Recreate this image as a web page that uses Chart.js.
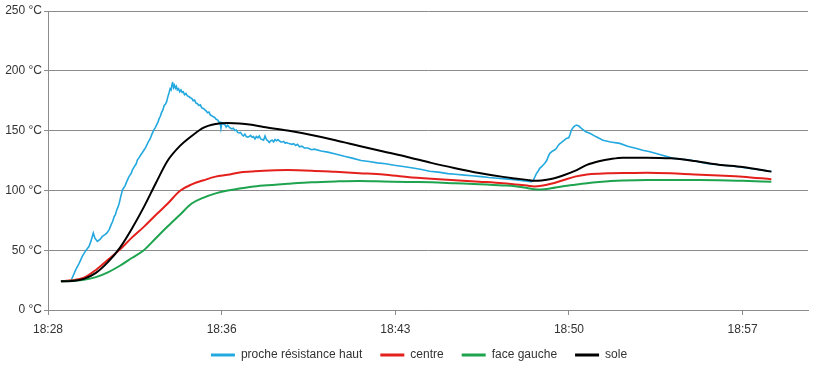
<!DOCTYPE html>
<html>
<head>
<meta charset="utf-8">
<script src="https://cdn.jsdelivr.net/npm/chart.js@4.4.0/dist/chart.umd.min.js"></script>
<style>
  html, body { margin: 0; padding: 0; background: #fff; }
  #wrap { width: 822px; height: 369px; }
</style>
</head>
<body>
<div id="wrap"><canvas id="tempChart" width="822" height="369"></canvas></div>
<script>
'use strict'

//x axis labels, one every tickStep minutes (minutes counted from the first label)
const tickLabels = ['18:28', '18:36', '18:43', '18:50', '18:57'];
const tickStep = 7.25;
const xMax = 31.73;

//y axis
const yTicks = [0, 50, 100, 150, 200, 250];

//series names
const seriesNames = ['proche résistance haut', 'centre', 'face gauche', 'sole'];

//proche résistance haut (noisy probe, own time base)
const timeHaut = [0.54,0.95,1.16,1.30,1.43,1.59,1.71,1.80,1.89,1.96,
  2.06,2.17,2.27,2.38,2.46,2.55,2.60,2.65,2.70,2.76,
  2.81,2.86,2.92,2.97,3.04,3.11,3.16,3.22,3.27,3.32,
  3.38,3.43,3.48,3.52,3.58,3.64,3.68,3.73,3.79,3.85,
  3.92,4.01,4.08,4.15,4.20,4.26,4.34,4.43,4.48,4.54,
  4.59,4.64,4.69,4.74,4.80,4.85,4.90,4.95,5.00,5.06,
  5.10,5.14,5.18,5.20,5.24,5.28,5.32,5.36,5.40,5.45,
  5.50,5.55,5.60,5.65,5.70,5.76,5.82,5.88,5.94,6.00,
  6.06,6.12,6.18,6.24,6.30,6.36,6.42,6.48,6.54,6.60,
  6.66,6.72,6.78,6.84,6.90,6.96,7.02,7.08,7.14,7.18,
  7.22,7.26,7.32,7.38,7.44,7.50,7.56,7.62,7.68,7.74,
  7.80,7.86,7.92,7.98,8.04,8.10,8.16,8.22,8.28,8.34,
  8.40,8.46,8.52,8.58,8.64,8.70,8.76,8.82,8.88,8.94,
  9.00,9.06,9.12,9.18,9.24,9.30,9.36,9.42,9.48,9.54,
  9.60,9.66,9.72,9.78,9.84,9.90,9.96,10.02,10.10,10.18,
  10.26,10.34,10.42,10.50,10.60,10.70,10.85,11.00,11.12,11.40,
  11.68,12.00,12.37,12.70,13.07,13.40,13.75,14.10,14.46,14.90,
  15.30,15.60,15.93,16.30,16.69,17.00,17.39,17.70,18.09,18.40,
  18.77,19.10,19.48,19.90,20.18,20.25,20.32,20.39,20.46,20.53,
  20.62,20.74,20.82,20.88,20.95,21.07,21.15,21.22,21.28,21.36,
  21.43,21.49,21.56,21.64,21.74,21.80,21.85,21.94,22.00,22.06,
  22.16,22.27,22.45,22.62,22.87,23.17,23.49,23.87,24.20,24.57,
  24.83,25.13,25.54,26.10,26.80,27.50,28.89,30.21];
const procheHaut = [24,24,33.8,39,44.8,50,53,58,64.3,60,
  57.3,59,61.5,63,64.5,67,69.5,72,74,78,
  79.5,83,86,89,95,100.4,102,104,106.5,108.8,
  111.5,113,114.5,117,119,121,122,125.4,127,129,
  131,133.8,136,139,141,143,147,151,152.5,155,
  157,160,162,165,167.5,171,172,174,178,182,
  185,184,189,190.7,186,188,185.5,187,184,185,
  182.5,184,182,182.5,180,181,179,178.5,177.5,177,
  175,175.5,173,172.5,171,171.5,169,168.5,167.5,166.5,
  165,165.5,163,162.5,161.5,161,159.5,159,157,157.5,
  151.8,156.5,155.5,155,153,154.5,153,152,151.5,152,
  150,150.5,148.5,148,148.5,146.5,145.5,147,145,144.5,
  145,146,144.5,145,143,145,144,145.5,143,142.5,
  142,145.5,142.5,141.5,140,141.5,142,140.5,142.5,141.5,
  142.5,141.5,140.5,140.5,141,139.5,140,139.5,139,138.5,
  139,137.5,138.5,136.5,137,135.5,135.5,134,134.5,133,
  132,130.5,128.5,127,125,124.2,123,122.3,121,119.8,
  118.5,117.5,116,115.3,114,113.5,112.8,112.2,111.5,110.8,
  110.2,109.6,109,108,107.3,108,111,114,116,118.5,
  120,122.7,125,128,131,133,133.8,135,137,139,
  140,141,142,143.5,144,147,150.4,153,154,154.6,
  153.8,151.8,149,147.7,145,142,140.5,139.3,137,135,
  133.5,132.3,130,126.8,125.4,122.5,119.6,115.8];

//smooth probes share one time base
const timeSmooth = [0.54,1.0,1.5,2.0,2.5,3.0,3.5,4.0,4.5,5.0,
  5.5,6.0,6.5,7.0,7.5,8.0,8.5,9,10,11,
  12,13,14,15,16,17,18,19,19.5,20,
  20.3,20.6,21,21.5,22,22.5,23,23.5,24,25,
  26,27,28,29,30.2];
const centre = [24,24.8,27,33.5,42,50.5,60.5,69.5,79.5,89,
  99.5,105,108.5,111.5,113,115,115.8,116.5,117,116.5,
  115.5,114.4,113.3,111.2,109.7,108.5,107.3,106,105,104,
  103.3,103.8,105.5,108.5,111.5,113.3,114,114.3,114.5,114.8,
  114.3,113.3,112.5,111.5,109.3];
const faceGauche = [24,24.4,25.2,27.5,31.5,37,43.5,50,60,70,
  79.5,89,94,97.5,100,101.5,103,104,105.5,106.8,
  107.5,107.9,107.5,107,106.8,106,105.2,104.2,103.5,102,
  101,100.8,101.8,103.5,104.8,106,107,107.8,108.3,108.8,
  108.8,108.7,108.5,108,107.3];
const sole = [24,24.3,26,31,40,52,68,86,106,125,
  137,145.5,152.5,155.5,156.3,156,154.8,153,150,146.3,
  142,137.2,132.5,128,123,118.6,114.6,111.3,110,108.8,
  108,108.3,109.5,112.5,116.3,121.3,124.3,126.3,127.4,127.4,
  126.8,124.5,121.5,119.5,115.7];

const seriesColors = ['#23a8df', '#e3201b', '#1ea34f', '#000000'];
const gridColor = '#8c8c8c';
const textColor = '#333333';

//==================================================================================================

function toPoints(times, values){
	return times.map((t, i) => ({ x: t, y: values[i] }));
}

function makeDataset(idx, times, values, smooth){
	return {
		label: seriesNames[idx],
		data: toPoints(times, values),
		borderColor: seriesColors[idx],
		backgroundColor: seriesColors[idx],
		borderWidth: idx == 0 ? 1.6 : 2,
		pointRadius: 0,
		tension: 0,
		cubicInterpolationMode: smooth ? 'monotone' : 'default',
		//black on top, blue at the bottom
		order: 4 - idx
	};
}

//legend moved a bit up and to the right, like the original
const legendPlace = {
	id: 'legendPlace',
	beforeLayout(chart){
		const lg = chart.legend;
		if(lg && !lg._patched){
			const fit = lg.fit;
			lg.fit = function(){
				fit.call(this);
				this.height = 27;
			};
			lg._patched = true;
		}
	},
	afterLayout(chart){
		const lg = chart.legend;
		if(lg){
			lg.left += 15;
			lg.right += 15;
			lg.top -= 11;
			lg.height += 11;
		}
	}
};

new Chart(document.getElementById('tempChart'), {
	type: 'line',
	data: {
		datasets: [
			makeDataset(0, timeHaut, procheHaut, false),
			makeDataset(1, timeSmooth, centre, true),
			makeDataset(2, timeSmooth, faceGauche, true),
			makeDataset(3, timeSmooth, sole, true)
		]
	},
	options: {
		responsive: false,
		animation: false,
		events: [],
		layout: { padding: { left: 0, right: 14, top: 11, bottom: 0 } },
		scales: {
			x: {
				type: 'linear',
				min: 0,
				max: xMax,
				afterBuildTicks: (scale) => {
					scale.ticks = tickLabels.map((l, i) => ({ value: i * tickStep }));
				},
				afterFit: (scale) => { scale.height = 32; },
				ticks: {
					autoSkip: false,
					maxRotation: 0,
					padding: 7,
					color: textColor,
					font: { family: 'Liberation Sans', size: 12 },
					callback: (v, i) => tickLabels[i]
				},
				grid: { drawOnChartArea: false, drawTicks: true, tickLength: 5, color: gridColor },
				border: { color: gridColor }
			},
			y: {
				min: 0,
				max: 250,
				afterBuildTicks: (scale) => {
					scale.ticks = yTicks.map((v) => ({ value: v }));
				},
				afterFit: (scale) => { scale.width = 48; },
				ticks: {
					padding: 2,
					color: textColor,
					font: { family: 'Liberation Sans', size: 12 },
					callback: (v) => v + ' °C'
				},
				grid: { color: gridColor, tickLength: 4 },
				border: { color: gridColor }
			}
		},
		plugins: {
			tooltip: { enabled: false },
			legend: {
				position: 'bottom',
				labels: {
					boxWidth: 24,
					boxHeight: 3,
					padding: 18,
					color: textColor,
					font: { family: 'Liberation Sans', size: 12 },
					sort: (a, b) => a.datasetIndex - b.datasetIndex,
					generateLabels: (chart) => {
						return Chart.defaults.plugins.legend.labels.generateLabels(chart)
							.map((item) => Object.assign(item, { lineWidth: 0 }));
					}
				}
			}
		}
	},
	plugins: [legendPlace]
});
</script>
</body>
</html>
